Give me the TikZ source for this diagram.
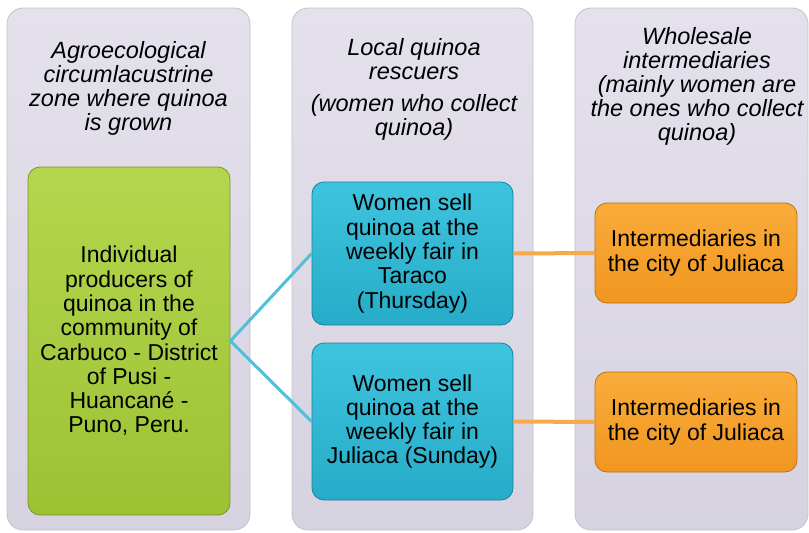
\documentclass[tikz,border=0pt]{standalone}
\usepackage{fontspec}
\setmainfont{Liberation Sans}
\definecolor{paneltop}{RGB}{228,225,236}
\definecolor{panelbot}{RGB}{214,210,224}
\definecolor{panelline}{RGB}{196,193,207}
\definecolor{greentop}{RGB}{180,214,78}
\definecolor{greenbot}{RGB}{156,194,52}
\definecolor{greenline}{RGB}{120,150,35}
\definecolor{bluetop}{RGB}{62,196,222}
\definecolor{bluebot}{RGB}{38,172,200}
\definecolor{blueline}{RGB}{25,130,155}
\definecolor{orangetop}{RGB}{250,172,58}
\definecolor{orangebot}{RGB}{240,150,32}
\definecolor{orangeline}{RGB}{190,112,18}
\definecolor{cyanlink}{RGB}{80,192,214}
\definecolor{orangelink}{RGB}{248,170,72}
\tikzset{
  panel/.style={rectangle, rounded corners=16pt, top color=paneltop, bottom color=panelbot,
    draw=panelline, line width=0.8pt, minimum width=#1, minimum height=522pt, inner sep=0pt},
  header/.style={align=center, inner sep=0pt, font=\fontsize{23.5}{24}\selectfont\itshape},
  boxbase/.style={rectangle, rounded corners=12pt, line width=0.8pt, inner sep=0pt,
    align=center, font=\fontsize{23}{24.3}\selectfont, minimum width=201pt},
  greenbox/.style={boxbase, top color=greentop, bottom color=greenbot, draw=greenline},
  bluebox/.style={boxbase, top color=bluetop, bottom color=bluebot, draw=blueline},
  orangebox/.style={boxbase, top color=orangetop, bottom color=orangebot, draw=orangeline},
  cyanconn/.style={draw=cyanlink, line width=3pt},
  orangeconn/.style={draw=orangelink, line width=4pt}
}
\begin{document}
\begin{tikzpicture}[x=1pt,y=-1pt]
\useasboundingbox (0,0) rectangle (809,533);
% panels
\node[panel=243pt] (p1) at (128.5,269) {};
\node[panel=241pt] (p2) at (412.5,269) {};
\node[panel=233pt] (p3) at (691.5,269) {};
% headers (base anchor = last line's baseline)
\node[header, anchor=base] (h1) at (128.5,130) {Agroecological\\circumlacustrine\\zone where quinoa\\is grown};
\node[header, anchor=base] (h2) at (414,135) {Local quinoa\\rescuers\\[8pt](women who collect\\quinoa)};
\node[header, anchor=base] (h3) at (697,140) {Wholesale\\intermediaries\\(mainly women are\\the ones who collect\\quinoa)};
% boxes
\node[greenbox, minimum width=202pt, minimum height=348pt] (g) at (129,341)
  {Individual\\producers of\\quinoa in the\\community of\\Carbuco - District\\of Pusi -\\Huancané -\\Puno, Peru.};
\node[bluebox, minimum height=143pt] (b1) at (412.5,253.5)
  {Women sell\\quinoa at the\\weekly fair in\\Taraco\\(Thursday)};
\node[bluebox, minimum height=157pt] (b2) at (412.5,421.5)
  {Women sell\\quinoa at the\\weekly fair in\\Juliaca (Sunday)};
\node[orangebox, minimum width=202pt, minimum height=100pt] (o1) at (696,253)
  {Intermediaries in\\the city of Juliaca};
\node[orangebox, minimum width=202pt, minimum height=100pt] (o2) at (696,422)
  {Intermediaries in\\the city of Juliaca};
% connectors
\draw[cyanconn] (b1.west) -- (g.east) -- (b2.west);
\draw[orangeconn] (b1.east) -- (o1.west);
\draw[orangeconn] (b2.east) -- (o2.west);
\end{tikzpicture}
\end{document}
